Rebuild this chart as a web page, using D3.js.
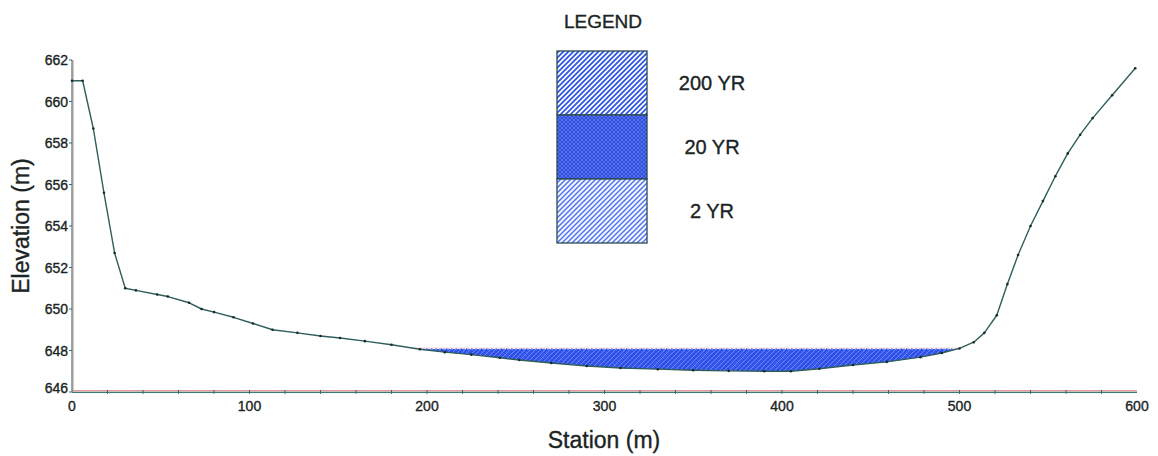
<!DOCTYPE html>
<html><head><meta charset="utf-8">
<script src="https://cdn.jsdelivr.net/npm/d3@7"></script>
<style>
body{margin:0;background:#fff;}
text{font-family:"Liberation Sans",Arial,sans-serif;fill:#1a2424;stroke:#1a2424;stroke-width:0.35px;}
</style></head>
<body><svg id="chart" width="1158" height="456"></svg>
<script>
const stations = [0,6,12,18,24,30,36,48,54,66,73,80,91,102,113,127,140,151,165,180,196,210,225,241,252,270,290,309,330,350,370,390,405,421,440,459,478,490,500,508,514,521,527,533,540,547,554,561,568,575,586,599];
const elevations = [661,661,658.7,655.6,652.7,651.0,650.9,650.7,650.6,650.3,650.0,649.85,649.6,649.3,649.0,648.85,648.7,648.6,648.45,648.28,648.06,647.92,647.8,647.65,647.54,647.4,647.25,647.16,647.1,647.05,647.02,647.0,647.0,647.12,647.3,647.45,647.68,647.88,648.1,648.4,648.85,649.7,651.2,652.6,654.0,655.2,656.4,657.5,658.4,659.2,660.3,661.6];
const events = ["200 YR","20 YR","2 YR"];
const wsel = [648.12, 648.09, 648.06];
const xTicks = [0,100,200,300,400,500,600];
const yTicks = [646,648,650,652,654,656,658,660,662];

const svg = d3.select("#chart");
const x = d3.scaleLinear().domain([0,600]).range([72,1137]);
const y = d3.scaleLinear().domain([646,662]).range([392,60]);
const ground = stations.map((s,i)=>({s, e:elevations[i]}));

const defs = svg.append("defs");
function hatch(id, size, stroke, width, cross, bg){
  const p = defs.append("pattern").attr("id",id).attr("patternUnits","userSpaceOnUse")
    .attr("width",size).attr("height",size);
  if(bg) p.append("rect").attr("width",size).attr("height",size).attr("fill",bg);
  p.append("path").attr("d",`M0,${size} L${size},0 M${-size/2},${size/2} L${size/2},${-size/2} M${size/2},${size*1.5} L${size*1.5},${size/2}`)
    .attr("stroke",stroke).attr("stroke-width",width);
  if(cross) p.append("path").attr("d",`M0,0 L${size},${size} M${-size/2},${size/2} L${size/2},${size*1.5} M${size/2},${-size/2} L${size*1.5},${size/2}`)
    .attr("stroke",stroke).attr("stroke-width",width);
}
hatch("p200",5,"#2f55e6",1.8,false,"#ffffff");
hatch("p20",4,"#2f4fe0",1.6,true,"#a8b8ff");
hatch("p2",5,"#4a70f0",1.4,false,"#f2f5ff");
hatch("w200",5,"#6f8cff",0.9,false,null);
hatch("w20",4,"#2240d8",0.7,true,null);
const pats = ["url(#p200)","url(#p20)","url(#p2)"];

defs.append("clipPath").attr("id","aboveGround").append("path")
  .attr("d", d3.area().x(d=>x(d.s)).y0(0).y1(d=>y(d.e))(ground));

const water = svg.append("g").attr("clip-path","url(#aboveGround)");
const wfill = ["url(#w200)","url(#w20)","#3a5cf0"];
[2,1,0].forEach(i=>{
  water.append("rect").attr("x",x(0)).attr("width",x(600)-x(0))
    .attr("y",y(wsel[i])).attr("height",y(646)-y(wsel[i]))
    .attr("fill",wfill[i]);
});
svg.append("line").attr("x1",x(192)).attr("x2",x(500)).attr("y1",y(wsel[0])).attr("y2",y(wsel[0]))
  .attr("stroke","#e88080").attr("stroke-width",0.6).attr("opacity",0.5);

// axes
const xAxisG = svg.append("g");
xAxisG.append("line").attr("x1",x(0)).attr("x2",x(600)).attr("y1",y(646)-1.2).attr("y2",y(646)-1.2).attr("stroke","#e07070").attr("stroke-width",1);
xAxisG.append("line").attr("x1",x(0)).attr("x2",x(600)).attr("y1",y(646)+0.3).attr("y2",y(646)+0.3).attr("stroke","#3c7a78").attr("stroke-width",1.2);
d3.range(20,600,20).forEach(v=>{
  xAxisG.append("line").attr("x1",x(v)).attr("x2",x(v)).attr("y1",y(646)-2).attr("y2",y(646)+2).attr("stroke","#3c6a68").attr("stroke-width",1);
});
xAxisG.selectAll("text.xt").data(xTicks).join("text").attr("class","xt")
  .attr("x",d=>x(d)).attr("y",y(646)+19).attr("text-anchor","middle").attr("font-size",14).text(d=>d);

const yAxisG = svg.append("g");
yAxisG.append("line").attr("x1",x(0)+1.2).attr("x2",x(0)+1.2).attr("y1",y(662)).attr("y2",y(646)).attr("stroke","#e8a0a0").attr("stroke-width",1);
yAxisG.append("line").attr("x1",x(0)).attr("x2",x(0)).attr("y1",y(662)).attr("y2",y(646)).attr("stroke","#3c7a78").attr("stroke-width",1.2);
yTicks.forEach(v=>{
  yAxisG.append("line").attr("x1",x(0)-3).attr("x2",x(0)).attr("y1",y(v)).attr("y2",y(v)).attr("stroke","#3c6a68");
});
yAxisG.selectAll("text.yt").data(yTicks).join("text").attr("class","yt")
  .attr("x",x(0)-4).attr("y",d=>y(d)+(d===646?1:5)).attr("text-anchor","end").attr("font-size",14).text(d=>d);

// ground line
svg.append("path").datum(ground)
  .attr("d", d3.line().x(d=>x(d.s)).y(d=>y(d.e)))
  .attr("fill","none").attr("stroke","#2f5f5c").attr("stroke-width",1.4).attr("stroke-linejoin","round");
svg.selectAll("circle.pt").data(ground).join("circle").attr("class","pt")
  .attr("cx",d=>x(d.s)).attr("cy",d=>y(d.e)).attr("r",1.3).attr("fill","#1a2a2a");

// titles
svg.append("text").attr("x",604).attr("y",448).attr("text-anchor","middle").attr("font-size",23).text("Station (m)");
svg.append("text").attr("transform","translate(29,226) rotate(-90)").attr("text-anchor","middle").attr("font-size",23).text("Elevation (m)");

// legend
const lg = svg.append("g");
lg.append("text").attr("x",603).attr("y",28).attr("text-anchor","middle").attr("font-size",19).text("LEGEND");
const lx = 557, lw = 90, ly = 51, lh = 64;
events.forEach((ev,i)=>{
  lg.append("rect").attr("x",lx).attr("y",ly+i*lh).attr("width",lw).attr("height",lh)
    .attr("fill",pats[i]).attr("stroke","#2a4a50").attr("stroke-width",1.3);
  lg.append("text").attr("x",712).attr("y",ly+i*lh+lh/2+7).attr("text-anchor","middle").attr("font-size",20).text(ev);
});
</script></body></html>
